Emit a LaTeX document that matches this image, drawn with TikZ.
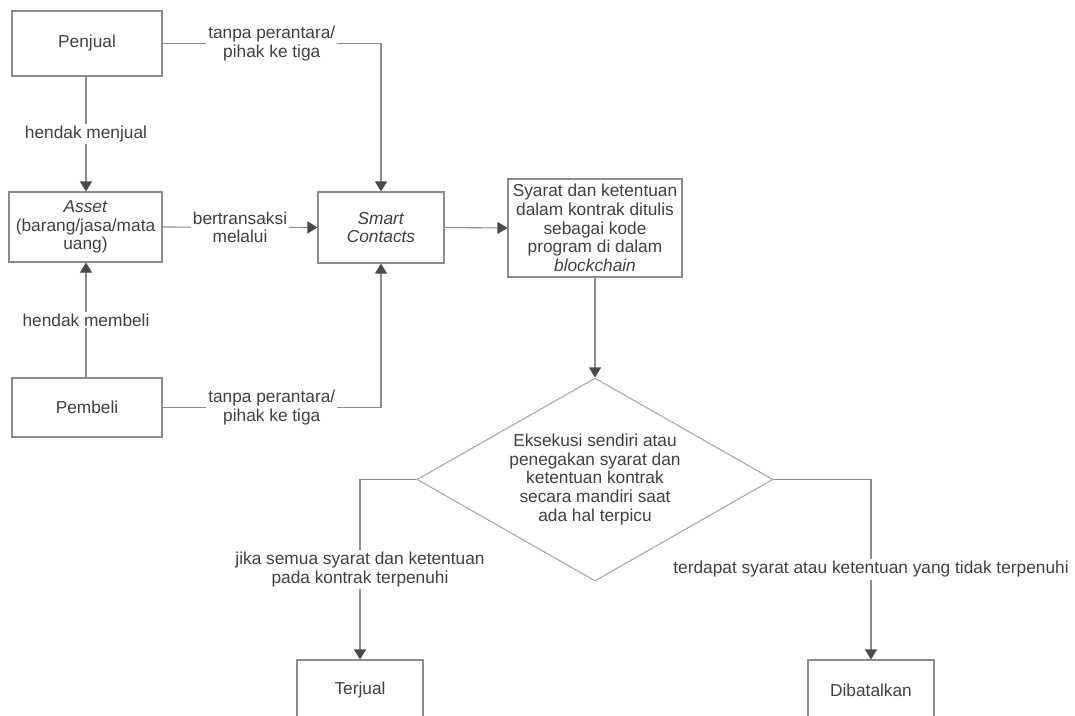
\documentclass[tikz,border=0pt]{standalone}
\usepackage{fontspec}
\setmainfont{Liberation Sans}
\usetikzlibrary{arrows.meta,shapes.geometric}
\definecolor{txt}{HTML}{404040}
\definecolor{ln}{HTML}{8C8C8C}
\definecolor{dl}{HTML}{A8A8A8}
\definecolor{hd}{HTML}{4A4A4A}
\tikzset{
  box/.style={draw=ln, line width=1.1pt, rectangle, inner sep=0pt, text=txt, align=center, font=\fontsize{17.3}{18.6}\selectfont},
  arr/.style={draw=ln, line width=1.1pt, -{Triangle[width=12pt,length=10pt,color=hd,fill=hd]}},
  lbl/.style={fill=white, text=txt, align=center, inner sep=2pt, font=\fontsize{17.3}{18.6}\selectfont}
}
\begin{document}
\begin{tikzpicture}[x=1pt,y=-1pt]
\useasboundingbox (0,0) rectangle (1075,715);
\clip (0,0) rectangle (1075,715);
\fill[white] (0,0) rectangle (1075,715);
\node[box, minimum width=150pt, minimum height=65pt] (penjual) at (87,43.5) {Penjual};
\node[box, minimum width=153pt, minimum height=70pt] (asset) at (85.5,227) {\textit{Asset}\\(barang/jasa/mata\\uang)};
\node[box, minimum width=150pt, minimum height=59pt] (pembeli) at (87,407.5) {Pembeli};
\node[box, minimum width=126pt, minimum height=71pt] (smart) at (381,227.5) {\textit{Smart}\\\textit{Contacts}};
\node[box, minimum width=174pt, minimum height=98pt] (syarat) at (595,228) {Syarat dan ketentuan\\dalam kontrak ditulis\\sebagai kode\\program di dalam\\\textit{blockchain}};
\node[box, draw=dl, diamond, shape aspect=1.75, minimum width=356pt, minimum height=203pt] (dec) at (595,479.5) {Eksekusi sendiri atau\\penegakan syarat dan\\ketentuan kontrak\\secara mandiri saat\\ada hal terpicu};
\node[box, minimum width=126pt, minimum height=60pt] (terjual) at (360,690) {Terjual};
\node[box, minimum width=126pt, minimum height=60pt] (batal) at (871,690) {Dibatalkan};

\draw[arr] (penjual.south -| 86,0) -- (asset.north -| 86,0) node[lbl, midway] {hendak menjual};
\draw[arr] (pembeli.north -| 86,0) -- (asset.south -| 86,0) node[lbl, midway] {hendak membeli};
\draw[arr] (penjual.east) -| (smart.north) node[lbl, pos=0.25] {tanpa perantara/\\pihak ke tiga};
\draw[arr] (pembeli.east) -| (smart.south) node[lbl, pos=0.25] {tanpa perantara/\\pihak ke tiga};
\draw[arr] (asset.east) -- (smart.west) node[lbl, midway] {bertransaksi\\melalui};
\draw[arr] (smart.east) -- (syarat.west);
\draw[arr] (syarat.south) -- (dec.north);
\draw[arr] (dec.west) -| (terjual.north) node[lbl, pos=0.75] {jika semua syarat dan ketentuan\\pada kontrak terpenuhi};
\draw[arr] (dec.east) -| (batal.north) node[lbl, pos=0.75] {terdapat syarat atau ketentuan yang tidak terpenuhi};
\end{tikzpicture}
\end{document}
